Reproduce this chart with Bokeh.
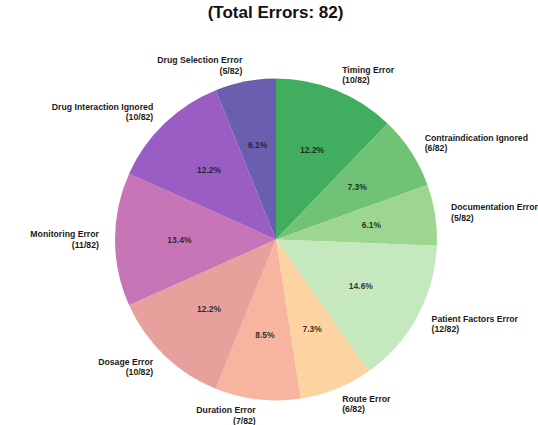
import math
from bokeh.plotting import figure
from bokeh.models import ColumnDataSource, Range1d
from bokeh.core.properties import value
from bokeh.embed import file_html
from bokeh.resources import INLINE

categories = ["Timing Error", "Contraindication Ignored", "Documentation Error",
              "Patient Factors Error", "Route Error", "Duration Error",
              "Dosage Error", "Monitoring Error", "Drug Interaction Ignored",
              "Drug Selection Error"]
counts = [10, 6, 5, 12, 6, 7, 10, 11, 10, 5]
colors = ["#40ad5f", "#70c275", "#9dd690", "#c6e8bf", "#fdd3a1",
          "#f7b59f", "#e8a09c", "#c875b7", "#9a5dc3", "#6a5fae"]
title_text = "(Total Errors: 82)"

total = sum(counts)

# pixel geometry (page coords): pie centre (275.5, 239), radius 161
W, H = 538, 425
R = 161.0
cx, cy = 275.5, 239
x0 = -cx / R
x1 = (W - cx) / R
y1 = cy / R
y0 = -(H - cy) / R

starts, ends, px, py, pt = [], [], [], [], []
lx, ly, lt, la = [], [], [], []
cum = 0
for c, n in zip(categories, counts):
    a0 = math.pi / 2 - cum / total * 2 * math.pi
    a1 = math.pi / 2 - (cum + n) / total * 2 * math.pi
    mid = (a0 + a1) / 2
    starts.append(a0)
    ends.append(a1)
    px.append(0.6 * math.cos(mid))
    py.append(0.6 * math.sin(mid))
    pt.append(f"{n / total * 100:.1f}%")
    lx.append(1.1 * math.cos(mid))
    ly.append(1.1 * math.sin(mid))
    lt.append(f"{c}\n({n}/{total})")
    la.append("left" if math.cos(mid) >= 0 else "right")
    cum += n

p = figure(width=W, height=H, output_backend="svg", toolbar_location=None,
           x_range=Range1d(x0, x1), y_range=Range1d(y0, y1), min_border=0)
p.axis.visible = False
p.grid.visible = False
p.outline_line_color = None

src = ColumnDataSource(dict(start=starts, end=ends, color=colors))
p.wedge(x=0, y=0, radius=1, start_angle="start", end_angle="end",
        direction="clock", fill_color="color", line_color=None, source=src)

psrc = ColumnDataSource(dict(x=px, y=py, t=pt))
p.text(x="x", y="y", text="t", source=psrc, text_align="center",
       text_baseline="middle", text_font=value("Liberation Sans"),
       text_font_style="bold", text_font_size="8.5px", text_color="#1a1a1a",
       text_alpha=0.9)

lsrc = ColumnDataSource(dict(x=lx, y=ly, t=lt, a=la))
p.text(x="x", y="y", text="t", text_align="a", source=lsrc,
       text_baseline="middle", text_font=value("Liberation Sans"),
       text_font_style="bold", text_font_size="8.7px", text_color="#1a1a1a",
       text_line_height=1.05)

ty = (cy - 12) / R
p.text(x=[(275 - cx) / R], y=[ty], text=[title_text], text_align="center",
       text_baseline="middle", text_font=value("Liberation Sans"),
       text_font_style="bold", text_font_size="17px", text_color="#111111")

open("out.html", "w").write(file_html(p, INLINE))
